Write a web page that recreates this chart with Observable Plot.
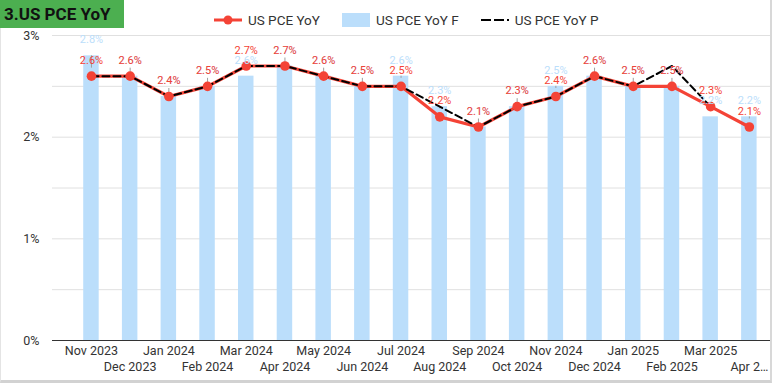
<!DOCTYPE html>
<html><head><meta charset="utf-8">
<script src="https://cdn.jsdelivr.net/npm/d3@7"></script>
<script src="https://cdn.jsdelivr.net/npm/@observablehq/plot@0.6"></script>
<style>
body{margin:0;background:#fff;font-family:Roboto,sans-serif;}
#card{position:absolute;left:0;top:0;width:769px;height:380px;border-left:1px solid #e4e4e4;border-right:2px solid #d8d8d8;border-bottom:3px solid #d2d2d2;}
#chart{position:absolute;left:0;top:0;}
#title{position:absolute;left:0;top:0;width:124px;height:28px;background:#4caf50;color:#111;font-weight:700;font-size:17px;line-height:29px;padding-left:4px;box-sizing:border-box;white-space:nowrap;}
#legend{position:absolute;left:214px;top:12px;display:flex;gap:22px;font-size:13.5px;color:#333;align-items:center;line-height:16px;}
.item{display:flex;align-items:center;gap:6px;}
</style></head><body>
<div id="card"><div id="chart"></div></div>
<div id="title">3.US PCE YoY</div>
<div id="legend"></div>
<script>
const months = ["Nov 2023","Dec 2023","Jan 2024","Feb 2024","Mar 2024","Apr 2024","May 2024","Jun 2024","Jul 2024","Aug 2024","Sep 2024","Oct 2024","Nov 2024","Dec 2024","Jan 2025","Feb 2025","Mar 2025","Apr 2025"];
const actual   = [2.6,2.6,2.4,2.5,2.7,2.7,2.6,2.5,2.5,2.2,2.1,2.3,2.4,2.6,2.5,2.5,2.3,2.1];
const forecast = [2.8,2.6,2.4,2.5,2.6,2.7,2.6,2.5,2.6,2.3,2.1,2.3,2.5,2.6,2.5,2.5,2.2,2.2];
const previous = [2.6,2.6,2.4,2.5,2.7,2.7,2.6,2.5,2.5,2.3,2.1,2.3,2.4,2.6,2.5,2.7,2.3,null];
const yTicks = [0,1,2,3];
const gridTicks = [0.5,1,1.5,2,2.5,3];
const seriesNames = ["US PCE YoY","US PCE YoY F","US PCE YoY P"];

const RED = "#f44336", BLUE = "#bbdefb";
const data = months.map((m,i)=>({month:m, a:actual[i], f:forecast[i], p:previous[i]}));
const pct = v => v.toFixed(1) + "%";
const fmtX = d => d === months[months.length-1] ? d.slice(0,5) + "…" : d;

const chart = Plot.plot({
  width: 769, height: 380,
  marginTop: 35, marginBottom: 40, marginLeft: 51, marginRight: 0,
  style: {fontFamily: "Roboto, sans-serif", background: "transparent"},
  x: {type: "band", domain: months, range: [70.6, 767.2], paddingInner: 0.6, paddingOuter: 0.3, round: false, axis: null},
  y: {domain: [0, 3], axis: null},
  marks: [
    Plot.ruleY(gridTicks, {stroke: "#e0e0e0"}),
    Plot.barY(data, {x: "month", y: "f", fill: BLUE}),
    Plot.ruleY([0], {stroke: "#333"}),
    Plot.ruleX(data, {x: "month", y1: d => Math.min(d.a, d.f), y2: d => Math.max(d.a, d.f), stroke: "#9e9e9e", strokeWidth: 1, insetTop: -8}),
    Plot.line(data, {x: "month", y: "a", stroke: RED, strokeWidth: 3.2}),
    Plot.line(data.filter(d => d.p != null), {x: "month", y: "p", stroke: "#000", strokeWidth: 2, strokeDasharray: "7,4"}),
    Plot.dot(data, {x: "month", y: "a", r: 4.8, fill: RED}),
    Plot.text(data, {x: "month", y: "f", text: d => pct(d.f), dy: -16, fill: BLUE, fontSize: 11}),
    Plot.text(data, {x: "month", y: "a", text: d => pct(d.a), dy: -16, fill: RED, fontSize: 11}),
    Plot.axisY({ticks: yTicks, tickFormat: d => d + "%", tickSize: 0, tickPadding: 13, fontSize: 12.5, color: "#333", label: null}),
    Plot.axisX({ticks: months.filter((d,i) => i % 2 === 0), tickFormat: fmtX, tickSize: 0, tickPadding: 6, fontSize: 12.5, color: "#333", label: null}),
    Plot.axisX({ticks: months.filter((d,i) => i % 2 === 1), tickFormat: fmtX, tickSize: 0, tickPadding: 22, fontSize: 12.5, color: "#333", label: null})
  ]
});
document.getElementById("chart").appendChild(chart);

const legend = document.getElementById("legend");
const swatches = [
  `<svg width="28" height="12"><line x1="0" y1="6" x2="28" y2="6" stroke="${RED}" stroke-width="3"/><circle cx="14" cy="6" r="4.5" fill="${RED}"/></svg>`,
  `<div style="width:28px;height:14px;background:${BLUE}"></div>`,
  `<svg width="28" height="4"><line x1="0" y1="2" x2="28" y2="2" stroke="#000" stroke-width="2" stroke-dasharray="10,3"/></svg>`
];
seriesNames.forEach((n,i) => {
  const it = document.createElement("div");
  it.className = "item";
  it.innerHTML = swatches[i] + `<span>${n}</span>`;
  legend.appendChild(it);
});
</script>
</body></html>
